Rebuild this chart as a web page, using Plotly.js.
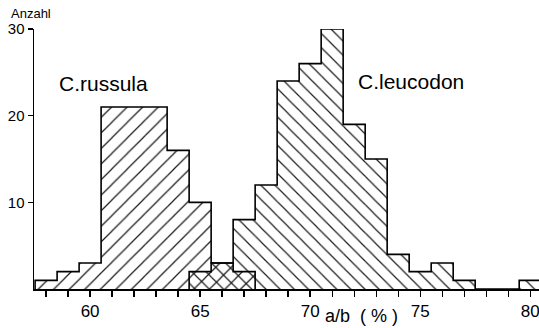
<!DOCTYPE html>
<html>
<head>
<meta charset="utf-8">
<script src="https://cdn.plot.ly/plotly-3.0.1.min.js"></script>
<style>
  html, body { margin: 0; padding: 0; background: #fff; }
  #chart { width: 539px; height: 328px; }
</style>
</head>
<body>
<div id="chart"></div>
<script>
// ---- Data ----
const russulaBins   = [58, 59, 60, 61, 62, 63, 64, 65, 66, 67];
const russulaCounts = [1, 2, 3, 21, 21, 21, 16, 10, 3, 2];

const leucodonBins   = [65, 66, 67, 68, 69, 70, 71, 72, 73, 74, 75, 76, 77, 78, 79, 80];
const leucodonCounts = [2, 3, 8, 12, 24, 26, 30, 19, 15, 4, 2, 3, 1, 0, 0, 1];

const seriesNames = ['C.russula', 'C.leucodon'];
const xTickLabelVals = [60, 65, 70, 75, 80];
const xTickLabels    = ['60', '65', '70', '75', '80'];
const yTickVals   = [10, 20, 30];
const yTickLabels = ['10', '20', '30'];
const xTitle = 'a/b  ( % )';
const yTitle = 'Anzahl';

// ---- Helpers ----
const binWidth = 1;
function stepOutline(bins, counts) {
  const xs = [bins[0] - binWidth / 2];
  const ys = [0];
  for (let i = 0; i < bins.length; i++) {
    xs.push(bins[i] - binWidth / 2);
    ys.push(counts[i]);
  }
  xs.push(bins[bins.length - 1] + binWidth / 2);
  ys.push(0);
  return { xs, ys };
}

// minor ticks at each integer; labels only on multiples of 5
const allTicks = [];
const allTickText = [];
for (let v = 58; v <= 80; v++) {
  allTicks.push(v);
  const k = xTickLabelVals.indexOf(v);
  allTickText.push(k >= 0 ? xTickLabels[k] : '');
}

const clear = 'rgba(0,0,0,0)';
const hatchColor = '#1a1a1a';
const FONT = '"Liberation Sans", Arial, Helvetica, sans-serif';

const rOut = stepOutline(russulaBins, russulaCounts);
const lOut = stepOutline(leucodonBins, leucodonCounts);

const traces = [
  {
    type: 'bar', name: seriesNames[0],
    x: russulaBins, y: russulaCounts, width: binWidth,
    marker: {
      color: clear, line: { width: 0 },
      pattern: { shape: '/', fgcolor: hatchColor, bgcolor: clear, size: 11, solidity: 0.11, fillmode: 'replace' }
    },
    hoverinfo: 'skip'
  },
  {
    type: 'bar', name: seriesNames[1],
    x: leucodonBins, y: leucodonCounts, width: binWidth,
    marker: {
      color: clear, line: { width: 0 },
      pattern: { shape: '\\', fgcolor: hatchColor, bgcolor: clear, size: 10, solidity: 0.12, fillmode: 'replace' }
    },
    hoverinfo: 'skip'
  },
  {
    type: 'scatter', mode: 'lines', x: rOut.xs, y: rOut.ys,
    line: { shape: 'hv', color: '#000', width: 1.6 }, cliponaxis: false, hoverinfo: 'skip'
  },
  {
    type: 'scatter', mode: 'lines', x: lOut.xs, y: lOut.ys,
    line: { shape: 'hv', color: '#000', width: 1.6 }, cliponaxis: false, hoverinfo: 'skip'
  }
];

const layout = {
  width: 539, height: 328,
  margin: { l: 34, r: 0, t: 29, b: 39 },
  paper_bgcolor: '#fff', plot_bgcolor: '#fff',
  showlegend: false,
  barmode: 'overlay',
  font: { family: FONT, color: '#000' },
  xaxis: {
    range: [57.45, 80.4],
    showgrid: false, zeroline: false,
    showline: true, linecolor: '#000', linewidth: 1.5,
    ticks: 'outside', ticklen: 6, tickwidth: 1.3, tickcolor: '#000',
    tickvals: allTicks, ticktext: allTickText,
    tickfont: { family: FONT, size: 17, color: '#000' },
    ticklabeloverflow: 'allow',
    fixedrange: true
  },
  yaxis: {
    range: [0, 30],
    showgrid: false, zeroline: false,
    showline: true, linecolor: '#000', linewidth: 1.5,
    ticks: 'outside', ticklen: 5, tickwidth: 1.3, tickcolor: '#000',
    tickvals: yTickVals, ticktext: yTickLabels,
    tickfont: { family: FONT, size: 15, color: '#000' },
    ticklabeloverflow: 'allow',
    fixedrange: true
  },
  annotations: [
    { text: yTitle, xref: 'paper', yref: 'paper', x: -0.05, y: 1.058, xanchor: 'left', yanchor: 'middle',
      showarrow: false, font: { family: FONT, size: 13, color: '#000' } },
    { text: seriesNames[0], xref: 'x', yref: 'y', x: 60.6, y: 23.7, xanchor: 'center', yanchor: 'middle',
      showarrow: false, font: { family: FONT, size: 21, color: '#000' } },
    { text: seriesNames[1], xref: 'x', yref: 'y', x: 74.6, y: 23.9, xanchor: 'center', yanchor: 'middle',
      showarrow: false, font: { family: FONT, size: 21, color: '#000' } },
    { text: xTitle, xref: 'x', yref: 'paper', x: 72.35, y: -0.056, xanchor: 'center', yanchor: 'top',
      showarrow: false, font: { family: FONT, size: 18, color: '#000' } }
  ]
};

Plotly.newPlot('chart', traces, layout, { staticPlot: true, displayModeBar: false });
</script>
</body>
</html>
